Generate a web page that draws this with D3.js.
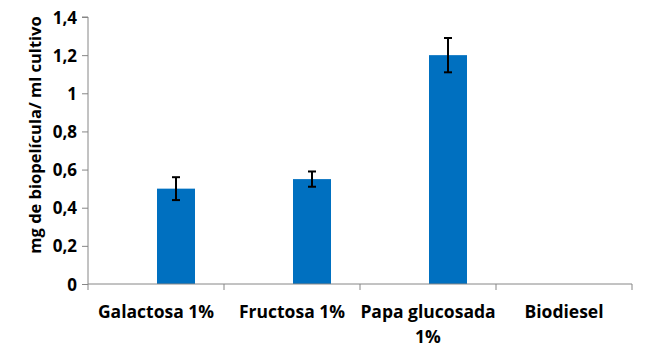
<!DOCTYPE html>
<html><head><meta charset="utf-8">
<script src="https://cdn.jsdelivr.net/npm/d3@7"></script>
<style>body{margin:0;background:#fff}svg text{font-family:"Open Sans",sans-serif;font-weight:bold;fill:#000}</style>
</head><body><svg id="c" width="647" height="356"></svg>
<script>
const categories = ["Galactosa 1%", "Fructosa 1%", "Papa glucosada 1%", "Biodiesel"];
const values = [0.5, 0.55, 1.2, 0];
const errors = [0.06, 0.04, 0.09, 0];
const yTicks = [0, 0.2, 0.4, 0.6, 0.8, 1, 1.2, 1.4];
const yTitle = "mg de biopelícula/ ml cultivo";

const svg = d3.select("#c");
const mLeft = 88, mRight = 632, mTop = 17, mBottom = 284;
const x = d3.scaleBand().domain(categories).range([mLeft, mRight]).padding(0);
const y = d3.scaleLinear().domain([0, 1.4]).range([mBottom, mTop]);
const fmt = d => String(d).replace(".", ",");
const barW = 38;

// bars
svg.selectAll("rect.bar").data(values).enter().append("rect")
  .attr("x", (d, i) => x(categories[i]) + x.bandwidth() / 2 + 1)
  .attr("width", barW)
  .attr("y", d => y(d))
  .attr("height", d => mBottom - y(d))
  .attr("fill", "#0070C0");

// error bars
const eg = svg.append("g").attr("stroke", "#000").attr("stroke-width", 2);
values.forEach((v, i) => {
  if (!errors[i]) return;
  const cx = x(categories[i]) + x.bandwidth() / 2 + 1 + barW / 2;
  eg.append("line").attr("x1", cx).attr("x2", cx).attr("y1", y(v + errors[i])).attr("y2", y(v - errors[i]));
  [v + errors[i], v - errors[i]].forEach(e => eg.append("line").attr("x1", cx - 4).attr("x2", cx + 4).attr("y1", y(e)).attr("y2", y(e)));
});

// y axis
const ya = svg.append("g").attr("transform", `translate(${mLeft},0)`)
  .call(d3.axisLeft(y).tickValues(yTicks).tickFormat(fmt).tickSize(6).tickPadding(5));
ya.selectAll("path,line").attr("stroke", "#868686");
ya.selectAll("text").style("font-size", "17px").attr("dy", "0.36em");
ya.select(".domain").attr("d", `M-6,${mTop}H0V${mBottom}`);

// x axis
const xa = svg.append("g").attr("transform", `translate(0,${mBottom})`);
xa.append("line").attr("x1", mLeft).attr("x2", mRight).attr("y1", 0).attr("y2", 0).attr("stroke", "#868686");
const bounds = [mLeft].concat(categories.map(c => x(c) + x.bandwidth()));
xa.selectAll("line.t").data(bounds).enter().append("line")
  .attr("x1", d => d).attr("x2", d => d).attr("y1", 0).attr("y2", 6).attr("stroke", "#868686");

// category labels
categories.forEach(c => {
  const cx = x(c) + x.bandwidth() / 2;
  const t = svg.append("text").attr("text-anchor", "middle").style("font-size", "17.5px");
  if (c === "Papa glucosada 1%") {
    t.append("tspan").attr("x", cx).attr("y", 318).text("Papa glucosada");
    t.append("tspan").attr("x", cx).attr("y", 343).text("1%");
  } else {
    t.attr("x", cx).attr("y", 318).text(c);
  }
});

// y title
svg.append("text").attr("transform", `translate(41,135) rotate(-90)`)
  .attr("text-anchor", "middle").style("font-size", "16.5px").text(yTitle);
</script></body></html>
